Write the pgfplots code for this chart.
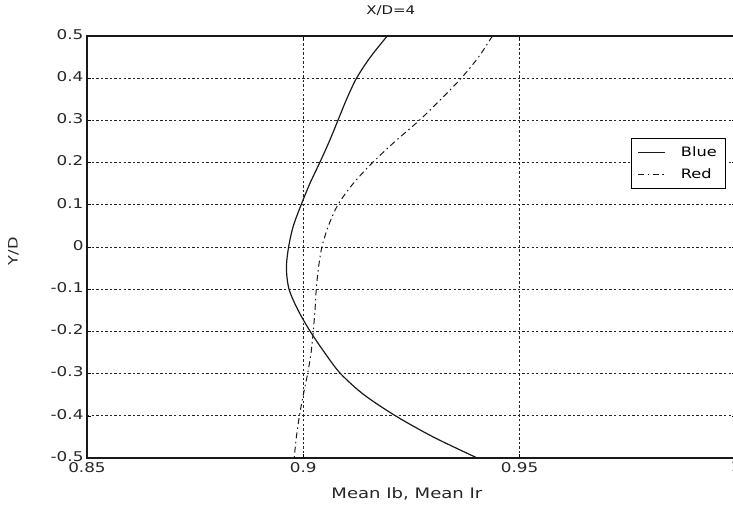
\documentclass[border=0pt]{standalone}
\usepackage{fontspec}
\setmainfont{DejaVu Sans}[FakeStretch=1.25]
\usepackage{pgfplots}
\pgfplotsset{compat=1.18}
\begin{document}
\begin{tikzpicture}
\begin{axis}[
  scale only axis,
  width=649bp, height=422bp,
  xmin=0.85, xmax=1, ymin=-0.5, ymax=0.5,
  xtick={0.85,0.9,0.95,1},
  xticklabels={0.85,0.9,0.95,1},
  ytick={-0.5,-0.4,-0.3,-0.2,-0.1,0,0.1,0.2,0.3,0.4,0.5},
  yticklabels={-0.5,-0.4,-0.3,-0.2,-0.1,0,0.1,0.2,0.3,0.4,0.5},
  tick align=inside,
  major tick length=4bp,
  tick style={black, line width=0.6pt},
  grid=major,
  major grid style={black!85, line width=0.9pt, dash pattern=on 2.4pt off 2.2pt},
  axis line style={black!90, line width=1.6pt},
  ticklabel style={font=\fontsize{13.5}{15}\selectfont, text=black!85},
  yticklabel style={yshift=1.5bp},
  xticklabel style={yshift=-0.5bp},
  /pgf/number format/assume math mode=true,
  title={X/D=4},
  title style={font=\fontsize{12}{14}\selectfont, text=black!90, at={(axis description cs:0.468,1.045)}, anchor=center},
  xlabel={Mean Ib, Mean Ir},
  xlabel style={font=\fontsize{14.5}{16}\selectfont, text=black!85, at={(axis description cs:0.493,-0.085)}, anchor=center},
  ylabel={Y/D},
  ylabel style={font=\fontsize{13}{15}\selectfont, text=black!85, at={(axis description cs:-0.113,0.49)}, anchor=center},
  legend style={font=\fontsize{13}{15}\selectfont, at={(axis description cs:0.985,0.758)}, anchor=north east, draw=black, line width=1pt, inner xsep=7bp, inner ysep=6bp, row sep=7bp, column sep=13bp},
  legend cell align=left,
  legend image code/.code={\draw[#1, line width=0.9pt] (0bp,0bp) -- (27bp,0bp);},
]
\coordinate (bbsw) at (axis description cs:-0.134,-0.116);
\coordinate (bbne) at (axis description cs:0.9954,1.0853);
\addplot[black!90, line width=1.2pt, smooth] coordinates {
(0.9194,0.5) (0.9155,0.45) (0.9123,0.4) (0.9100,0.35) (0.9080,0.3)
(0.9060,0.25) (0.9038,0.2) (0.9015,0.15) (0.8995,0.1) (0.8977,0.05)
(0.8966,0.0) (0.8961,-0.05) (0.8967,-0.1) (0.8988,-0.15)
(0.9016,-0.2) (0.9049,-0.25) (0.9086,-0.3) (0.9140,-0.35) (0.9213,-0.4)
(0.9300,-0.45) (0.9402,-0.5)
};
\addlegendentry{Blue\hspace{8bp}}
\addplot[black!90, line width=1pt, smooth, dash pattern=on 6pt off 3.5pt on 1.5pt off 3.5pt] coordinates {
(0.9437,0.5) (0.9405,0.45) (0.9365,0.4) (0.9318,0.35) (0.9268,0.3)
(0.9212,0.25) (0.9160,0.2) (0.9115,0.15) (0.9080,0.1) (0.9058,0.05)
(0.9043,0.0) (0.9035,-0.05) (0.9030,-0.1) (0.9027,-0.15) (0.9023,-0.2)
(0.9018,-0.25) (0.9010,-0.3) (0.9000,-0.35) (0.8991,-0.4) (0.8984,-0.45)
(0.8979,-0.5)
};
\addlegendentry{Red}
\end{axis}
\pgfresetboundingbox
\path[use as bounding box] (bbsw) rectangle (bbne);
\end{tikzpicture}
\end{document}
